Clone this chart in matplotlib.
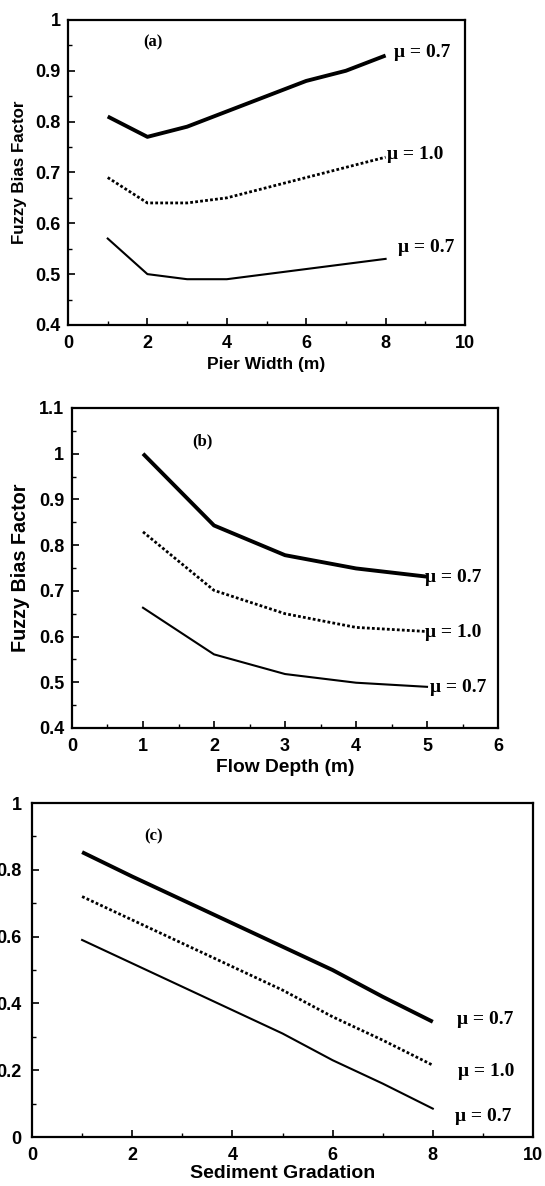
import matplotlib
matplotlib.use("Agg")
import matplotlib.pyplot as plt
from matplotlib.ticker import MultipleLocator, FuncFormatter

# ---- data ----
pier_width = [1, 2, 3, 4, 5, 6, 7, 8]
a_upper = [0.81, 0.77, 0.79, 0.82, 0.85, 0.88, 0.90, 0.93]
a_mid = [0.69, 0.64, 0.64, 0.65, 0.67, 0.69, 0.71, 0.73]
a_lower = [0.57, 0.50, 0.49, 0.49, 0.50, 0.51, 0.52, 0.53]

flow_depth = [1, 2, 3, 4, 5]
b_upper = [1.00, 0.843, 0.778, 0.749, 0.731]
b_mid = [0.829, 0.701, 0.65, 0.62, 0.611]
b_lower = [0.663, 0.561, 0.518, 0.499, 0.49]

gradation = [1, 2, 3, 4, 5, 6, 7, 8]
c_upper = [0.853, 0.78, 0.71, 0.64, 0.57, 0.50, 0.42, 0.345]
c_mid = [0.72, 0.65, 0.58, 0.51, 0.44, 0.36, 0.29, 0.215]
c_lower = [0.59, 0.52, 0.45, 0.38, 0.31, 0.23, 0.16, 0.085]

lab_upper = "\u03bc = 0.7"
lab_mid = "\u03bc = 1.0"
lab_lower = "\u03bc = 0.7"

SANS = "Liberation Sans"
SERIF = "Liberation Serif"

fig = plt.figure(figsize=(5.45, 11.86), dpi=100)

def fmt(v, pos):
    s = ("%.1f" % v)
    if s.endswith(".0"):
        s = s[:-2]
    return s

def style(ax, xmaj, xmin, ymaj, ymin, ypad=5.5):
    for sp in ax.spines.values():
        sp.set_linewidth(1.6)
    ax.xaxis.set_major_locator(MultipleLocator(xmaj))
    ax.xaxis.set_minor_locator(MultipleLocator(xmin))
    ax.yaxis.set_major_locator(MultipleLocator(ymaj))
    ax.yaxis.set_minor_locator(MultipleLocator(ymin))
    ax.yaxis.set_major_formatter(FuncFormatter(fmt))
    ax.xaxis.set_major_formatter(FuncFormatter(fmt))
    ax.tick_params(which="major", direction="in", length=5, width=1.2,
                   top=False, right=False)
    ax.tick_params(axis="y", which="major", pad=ypad)
    ax.tick_params(axis="x", which="major", pad=7)
    ax.tick_params(which="minor", direction="in", length=3, width=1.0,
                   top=False, right=False)
    for lab in ax.get_xticklabels() + ax.get_yticklabels():
        lab.set_fontfamily(SANS)
        lab.set_fontweight("bold")
        lab.set_fontsize(13)

def lines(ax, x, up, mid, low):
    ax.plot(x, up, color="black", lw=2.8, solid_capstyle="butt")
    ax.plot(x, mid, color="black", lw=2.0, linestyle=(0, (1, 0.8)))
    ax.plot(x, low, color="black", lw=1.5)

def labels(ax, xl, yl, xsize, ysize, xl_y, yl_x):
    ax.set_xlabel(xl, fontfamily=SANS, fontweight="bold", fontsize=xsize)
    ax.xaxis.label.set_va("center")
    ax.xaxis.set_label_coords(0.5, xl_y)
    if yl:
        ax.set_ylabel(yl, fontfamily=SANS, fontweight="bold", fontsize=ysize)
        ax.yaxis.label.set_va("center")
        ax.yaxis.set_label_coords(yl_x, 0.5)

def mu(ax, x, y, s):
    ax.text(x, y, s, fontfamily=SERIF, fontweight="bold", fontsize=14,
            ha="left", va="center")

# ---- panel (a) ----
ax1 = fig.add_axes([0.1248, 0.7260, 0.7284, 0.2572])
lines(ax1, pier_width, a_upper, a_mid, a_lower)
ax1.set_xlim(0, 10)
ax1.set_ylim(0.4, 1.0)
style(ax1, 2, 1, 0.1, 0.05)
labels(ax1, "Pier Width (m)", "Fuzzy Bias Factor", 12.5, 12.2, -0.131, -0.121)
ax1.text(1.9, 0.955, "(a)", fontfamily=SERIF, fontweight="bold", fontsize=12, ha="left", va="center")
mu(ax1, 8.2, 0.935, lab_upper)
mu(ax1, 8.03, 0.736, lab_mid)
mu(ax1, 8.3, 0.553, lab_lower)

# ---- panel (b) ----
ax2 = fig.add_axes([0.1321, 0.3862, 0.7817, 0.2698])
lines(ax2, flow_depth, b_upper, b_mid, b_lower)
ax2.set_xlim(0, 6)
ax2.set_ylim(0.4, 1.1)
style(ax2, 1, 0.5, 0.1, 0.05)
labels(ax2, "Flow Depth (m)", "Fuzzy Bias Factor", 13.8, 14.2, -0.122, -0.122)
ax2.text(1.7, 1.026, "(b)", fontfamily=SERIF, fontweight="bold", fontsize=12, ha="left", va="center")
mu(ax2, 4.97, 0.73, lab_upper)
mu(ax2, 4.97, 0.608, lab_mid)
mu(ax2, 5.04, 0.4875, lab_lower)

# ---- panel (c) ----
ax3 = fig.add_axes([0.0587, 0.0413, 0.9193, 0.2816])
lines(ax3, gradation, c_upper, c_mid, c_lower)
ax3.set_xlim(0, 10)
ax3.set_ylim(0, 1.0)
style(ax3, 2, 1, 0.2, 0.1, ypad=7.5)
labels(ax3, "Sediment Gradation", None, 14, 14, -0.108, None)
ax3.text(2.24, 0.9, "(c)", fontfamily=SERIF, fontweight="bold", fontsize=12, ha="left", va="center")
mu(ax3, 8.48, 0.351, lab_upper)
mu(ax3, 8.5, 0.195, lab_mid)
mu(ax3, 8.44, 0.06, lab_lower)

fig.savefig("out.png", dpi=100)
